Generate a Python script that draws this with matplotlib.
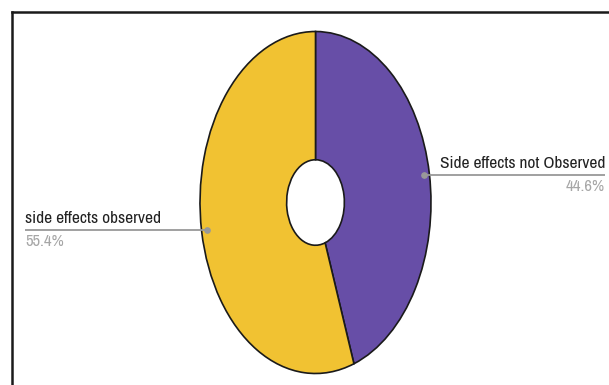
import numpy as np
import matplotlib
matplotlib.use("Agg")
import matplotlib.pyplot as plt
from matplotlib.lines import Line2D

plt.rcParams['font.family'] = ['Archivo Narrow', 'Liberation Sans', 'DejaVu Sans']

# Data
labels = ["Side effects not Observed", "side effects observed"]
values = [44.6, 55.4]
colors = ["#674ea7", "#f1c232"]

W, H = 609, 385
fig = plt.figure(figsize=(W / 100, H / 100), dpi=100)

# Pie axes stretched into an ellipse
cx, cy, rx, ry = 315.5, 202.5, 115.5, 171
ax = fig.add_axes([(cx - rx) / W, (H - cy - ry) / H, 2 * rx / W, 2 * ry / H])
wedges, _ = ax.pie(values, colors=colors, startangle=90, counterclock=False,
                   radius=1.0,
                   wedgeprops=dict(width=0.75, edgecolor="#1a1a1a", linewidth=1.2))
ax.set_aspect('auto')
ax.set_xlim(-1, 1)
ax.set_ylim(-1, 1)
ax.axis('off')

# Leader lines and labels
x_right = (W - 4 - cx) / rx
x_left = (25 - cx) / rx
total = sum(values)
start = 90.0
for lab, val in zip(labels, values):
    sweep = 360.0 * val / total
    mid = np.deg2rad(start - sweep / 2)
    start -= sweep
    px, py = 0.95 * np.cos(mid), 0.95 * np.sin(mid)
    if px >= 0:
        xe, ha = x_right, 'right'
    else:
        xe, ha = x_left, 'left'
    ax.plot([px, xe], [py, py], color="#999999", lw=1.3, clip_on=False,
            solid_capstyle='butt')
    ax.plot([px], [py], 'o', color="#999999", ms=3.8, clip_on=False)
    ax.annotate(lab, (xe, py), xytext=(0, 5), textcoords='offset points',
                ha=ha, va='baseline', fontsize=12.5, color="#222222",
                annotation_clip=False)
    ax.annotate(f"{val}%", (xe, py), xytext=(0, -11.5), textcoords='offset points',
                ha=ha, va='baseline', fontsize=12, color="#a6a6a6",
                annotation_clip=False)

# Frame lines along top and left
fx, fy = 11.5 / W, 1 - 11.5 / H
fig.add_artist(Line2D([fx, 1.0], [fy, fy], transform=fig.transFigure,
                      color="#1a1a1a", lw=1.8))
fig.add_artist(Line2D([fx, fx], [0.0, fy], transform=fig.transFigure,
                      color="#1a1a1a", lw=1.8))

fig.savefig("out.png", dpi=100)
